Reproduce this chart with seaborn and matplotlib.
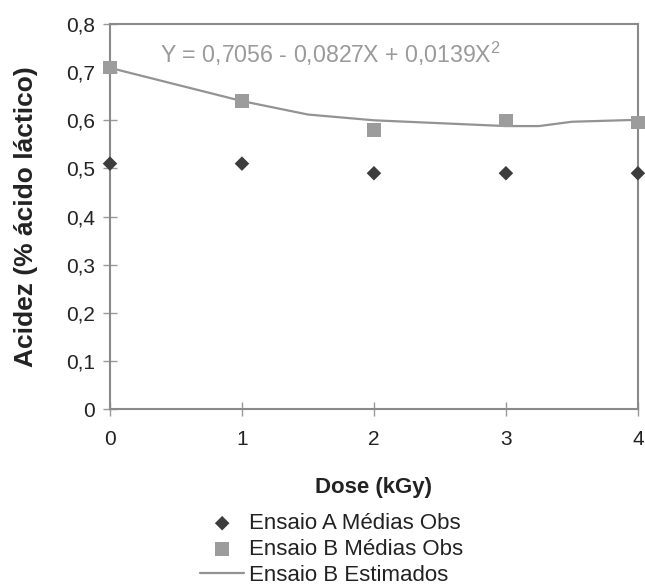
import matplotlib
matplotlib.use("Agg")
import matplotlib.pyplot as plt
import seaborn as sns
import pandas as pd
from matplotlib.ticker import FuncFormatter

dose = [0, 1, 2, 3, 4]
ensaio_a = [0.51, 0.51, 0.49, 0.49, 0.49]
ensaio_b = [0.71, 0.64, 0.58, 0.60, 0.595]
est_x = [0, 1, 1.5, 2, 3, 3.25, 3.5, 4]
est_y = [0.709, 0.640, 0.612, 0.600, 0.588, 0.588, 0.597, 0.601]
y_ticks = [0, 0.1, 0.2, 0.3, 0.4, 0.5, 0.6, 0.7, 0.8]
x_ticks = [0, 1, 2, 3, 4]
equation = "Y = 0,7056 - 0,0827X + 0,0139X$^{2}$"

sns.set_style("white")
plt.rcParams['font.family'] = ['Liberation Sans', 'DejaVu Sans']
plt.rcParams['mathtext.fontset'] = 'custom'
plt.rcParams['mathtext.rm'] = 'Liberation Sans'
plt.rcParams['mathtext.it'] = 'Liberation Sans'
plt.rcParams['mathtext.default'] = 'regular'

df_a = pd.DataFrame({"x": dose, "y": ensaio_a})
df_b = pd.DataFrame({"x": dose, "y": ensaio_b})
df_e = pd.DataFrame({"x": est_x, "y": est_y})

fig = plt.figure(figsize=(6.45, 5.87), dpi=100)
ax = fig.add_axes([0.1705, 0.3032, 0.8185, 0.6558])

sns.scatterplot(data=df_a, x="x", y="y", ax=ax, marker="D", s=55, color="#3c3c3c",
                edgecolor="none", label="Ensaio A Médias Obs", zorder=4, clip_on=False)
sns.scatterplot(data=df_b, x="x", y="y", ax=ax, marker="s", s=95, color="#9c9c9c",
                edgecolor="none", label="Ensaio B Médias Obs", zorder=4, clip_on=False)
sns.lineplot(data=df_e, x="x", y="y", ax=ax, color="#939393", lw=1.6,
             label="Ensaio B Estimados", zorder=3)

ax.set_xlim(0, 4)
ax.set_ylim(0, 0.8)
ax.set_xticks(x_ticks)
ax.set_yticks(y_ticks)
ax.yaxis.set_major_formatter(FuncFormatter(lambda v, p: "0" if v == 0 else f"{v:.1f}".replace(".", ",")))
ax.xaxis.set_major_formatter(FuncFormatter(lambda v, p: f"{int(v)}"))
ax.tick_params(axis='both', direction='inout', length=10, width=1, color="#999999",
               labelsize=15, labelcolor="#222222", bottom=True, left=True)
ax.tick_params(axis='x', pad=10)
ax.tick_params(axis='y', pad=6)
for s in ax.spines.values():
    s.set_color("#8a8a8a")
    s.set_linewidth(1.5)

ax.set_xlabel("Dose (kGy)", fontsize=16, fontweight="bold", color="#222222", labelpad=20)
ax.set_ylabel("Acidez (% ácido láctico)", fontsize=19, fontweight="bold", color="#222222", labelpad=20)

ax.text(0.38, 0.738, equation, fontsize=16.7, color="#9a9a9a", ha="left", va="center")

handles, labels = ax.get_legend_handles_labels()
ax.get_legend().remove()
fig.legend(handles, labels, loc="upper left", bbox_to_anchor=(0.31, 0.126), frameon=False,
           fontsize=16, handlelength=2.0, handletextpad=0.2, labelspacing=0.22,
           borderaxespad=0, borderpad=0, labelcolor="#222222")

fig.savefig("out.png", dpi=100, facecolor="white")
